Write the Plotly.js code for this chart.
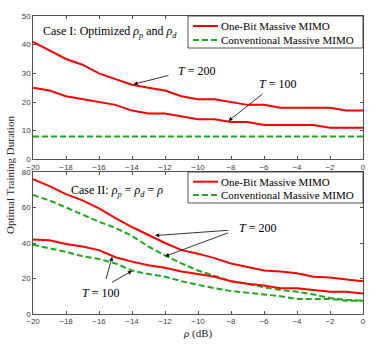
<!DOCTYPE html>
<html>
<head>
<meta charset="utf-8">
<script src="https://cdn.plot.ly/plotly-3.0.1.min.js"></script>
<style>html,body{margin:0;padding:0;background:#fff;}#chart{width:382px;height:344px;}</style>
</head>
<body>
<div id="chart"></div>
<script>
// rho in dB
const rho = [-20,-19,-18,-17,-16,-15,-14,-13,-12,-11,-10,-9,-8,-7,-6,-5,-4,-3,-2,-1,0];

// Case I: optimized rho_p and rho_d
const caseI_oneBit_T200 = [41,38,35,33,30,28,26,25,24,22,21,21,20,19,19,18,18,18,18,17,17];
const caseI_oneBit_T100 = [25,24,22,21,20,19,17,16,16,15,14,14,13,13,12,12,12,12,11,11,11];
const caseI_conv = [8,8,8,8,8,8,8,8,8,8,8,8,8,8,8,8,8,8,8,8,8];

// Case II: rho_p = rho_d = rho
const caseII_oneBit_T200 = [76,72,67.5,64,59.5,54,49,44.5,40,36,34,31.5,28.5,26.5,24.5,24,23,21,20.5,19.5,18.5];
const caseII_oneBit_T100 = [42,41.5,39.5,38,36,32,29.5,27.5,26,24,22.5,21,18.5,17,16,14.5,14.5,13.5,12.5,12.5,11.5];
const caseII_conv_T200 = [67,64,60,56,52,48.5,44,38,33,28.5,24.5,21.5,18.5,17,15,13.5,12.5,11,9,8,7.5];
const caseII_conv_T100 = [39,37,35,32.5,31,28.5,24.5,22.5,21,18.5,16.5,14.5,13,12,11,10,8.5,8.5,8.5,7.5,7.5];

const legendNames = ['One-Bit Massive MIMO', 'Conventional Massive MIMO'];

const RED = '#ff0000';
const GREEN = '#1fa81f';
const redLine = {color: RED, width: 2};
const greenLine = {color: GREEN, width: 2, dash: '6px,3px'};

const traces = [
  {x: rho, y: caseI_oneBit_T200, xaxis: 'x', yaxis: 'y', mode: 'lines', line: redLine, name: legendNames[0]},
  {x: rho, y: caseI_conv, xaxis: 'x', yaxis: 'y', mode: 'lines', line: greenLine, name: legendNames[1]},
  {x: rho, y: caseI_oneBit_T100, xaxis: 'x', yaxis: 'y', mode: 'lines', line: redLine, name: legendNames[0]},
  {x: rho, y: caseII_oneBit_T200, xaxis: 'x2', yaxis: 'y2', mode: 'lines', line: redLine, name: legendNames[0]},
  {x: rho, y: caseII_conv_T200, xaxis: 'x2', yaxis: 'y2', mode: 'lines', line: greenLine, name: legendNames[1]},
  {x: rho, y: caseII_oneBit_T100, xaxis: 'x2', yaxis: 'y2', mode: 'lines', line: redLine, name: legendNames[0]},
  {x: rho, y: caseII_conv_T100, xaxis: 'x2', yaxis: 'y2', mode: 'lines', line: greenLine, name: legendNames[1]}
];

const tickFont = {family: 'Liberation Sans, Arial, sans-serif', size: 8, color: '#404040'};
const serif = 'Liberation Serif, Times New Roman, serif';
function xax(anchor) {
  return {anchor: anchor, domain: [0, 1], range: [-20, 0], dtick: 2, tick0: -20,
    ticks: 'inside', ticklen: 3, tickwidth: 0.8, tickcolor: '#262626',
    showline: true, linecolor: '#262626', linewidth: 0.8, mirror: 'ticks',
    showgrid: false, zeroline: false, tickfont: tickFont, fixedrange: true};
}
function yax(anchor, domain, range, dtick) {
  return {anchor: anchor, domain: domain, range: range, dtick: dtick,
    ticks: 'inside', ticklen: 3, tickwidth: 0.8, tickcolor: '#262626',
    showline: true, linecolor: '#262626', linewidth: 0.8, mirror: 'ticks',
    showgrid: false, zeroline: false, tickfont: tickFont, fixedrange: true};
}

const annFont = {family: serif, size: 12, color: '#000'};
function arrow(xr, yr, ax, ay, x, y) {
  return {xref: xr, yref: yr, axref: xr, ayref: yr, x: x, y: y, ax: ax, ay: ay,
    text: '', showarrow: true, arrowhead: 2, arrowsize: 1, arrowwidth: 0.8, arrowcolor: '#000', standoff: 0, startstandoff: 0};
}
function label(xr, yr, x, y, text, xanchor) {
  return {xref: xr, yref: yr, x: x, y: y, text: text, showarrow: false, font: annFont,
    xanchor: xanchor || 'center', yanchor: 'middle'};
}

// Hand-built legend boxes (paper coordinates) to match the compact MATLAB legend
const shapes = [];
const legendTexts = [];
function addLegend(yTop, yBot, yItems) {
  shapes.push({type: 'rect', xref: 'paper', yref: 'paper', x0: 0.4697, x1: 1, y0: yBot, y1: yTop,
    fillcolor: '#ffffff', line: {color: '#262626', width: 0.8}, layer: 'above'});
  const styles = [redLine, greenLine];
  for (let i = 0; i < 2; i++) {
    shapes.push({type: 'line', xref: 'paper', yref: 'paper', x0: 0.4848, x1: 0.5606, y0: yItems[i], y1: yItems[i],
      line: styles[i], layer: 'above'});
    legendTexts.push({xref: 'paper', yref: 'paper', x: 0.5640, y: yItems[i], text: legendNames[i],
      showarrow: false, xanchor: 'left', yanchor: 'middle', font: {family: serif, size: 11, color: '#000'}});
  }
}
addLegend(1, 0.8926, [0.9664, 0.9195]);
addLegend(0.4765, 0.3725, [0.4440, 0.3993]);

const annotations = [
  label('x', 'y', -19.5, 44.4, 'Case I: Optimized <i>ρ<sub>p</sub></i> and <i>ρ<sub>d</sub></i>', 'left'),
  label('x', 'y', -10.1, 30.7, '<i>T</i> = 200'),
  arrow('x', 'y', -11.7, 29.4, -13.9, 26.2),
  label('x', 'y', -5.2, 26.3, '<i>T</i> = 100'),
  arrow('x', 'y', -6.0, 23.2, -8.15, 13.4),
  label('x2', 'y2', -17.8, 69.4, 'Case II: <i>ρ<sub>p</sub></i> = <i>ρ<sub>d</sub></i> = <i>ρ</i>', 'left'),
  label('x2', 'y2', -6.4, 48.7, '<i>T</i> = 200'),
  arrow('x2', 'y2', -8.1, 47.2, -12.6, 44.2),
  arrow('x2', 'y2', -8.1, 46.0, -12.0, 32.5),
  label('x2', 'y2', -15.9, 11.8, '<i>T</i> = 100'),
  arrow('x2', 'y2', -15.6, 18.9, -15.2, 32.2),
  arrow('x2', 'y2', -15.3, 17.4, -14.0, 24.2),
  {xref: 'paper', yref: 'paper', x: -0.07, y: 0.466, text: 'Optimal Training Duration', textangle: -90,
    showarrow: false, font: {family: serif, size: 11, color: '#262626'}, xanchor: 'center', yanchor: 'middle'},
  {xref: 'paper', yref: 'paper', x: 0.5, y: -0.067, text: '<i>ρ</i> (dB)',
    showarrow: false, font: {family: serif, size: 11, color: '#262626'}, xanchor: 'center', yanchor: 'middle'}
].concat(legendTexts);

const layout = {
  width: 382, height: 344,
  margin: {l: 33, r: 19, t: 16, b: 30, pad: 0},
  paper_bgcolor: '#ffffff', plot_bgcolor: '#ffffff',
  xaxis: xax('y'),
  yaxis: yax('x', [0.519, 1], [0, 50], 10),
  xaxis2: xax('y2'),
  yaxis2: yax('x2', [0, 0.4765], [0, 80], 20),
  shapes: shapes,
  annotations: annotations,
  showlegend: false
};

Plotly.newPlot('chart', traces, layout, {displayModeBar: false, staticPlot: true});
</script>
</body>
</html>
